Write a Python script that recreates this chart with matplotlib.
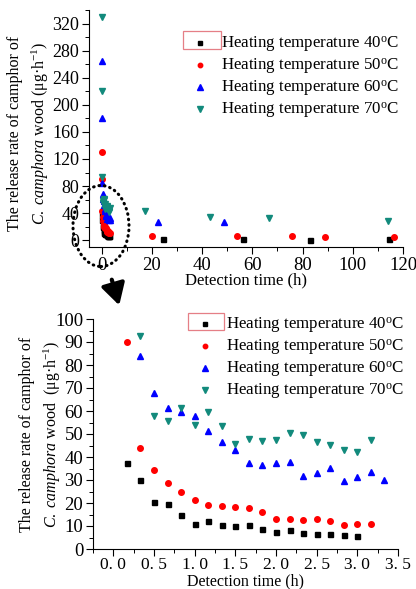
import matplotlib
matplotlib.use('Agg')
import matplotlib.pyplot as plt
from matplotlib.patches import Ellipse, Rectangle, FancyArrowPatch
from matplotlib.ticker import MultipleLocator, FixedLocator, FixedFormatter

plt.rcParams['font.family'] = ['Liberation Serif', 'DejaVu Serif']
plt.rcParams['mathtext.fontset'] = 'custom'
plt.rcParams['mathtext.rm'] = 'Liberation Serif'
plt.rcParams['mathtext.it'] = 'Liberation Serif:italic'

# ------------------------------- Data ------------------------------- #
labels = ['Heating temperature 40$^{\\mathrm{o}}$C', 'Heating temperature 50$^{\\mathrm{o}}$C',
          'Heating temperature 60$^{\\mathrm{o}}$C', 'Heating temperature 70$^{\\mathrm{o}}$C']

# detection time (h)
t40 = [0.17, 0.33, 0.5, 0.67, 0.83, 1.0, 1.17, 1.33, 1.5, 1.67, 1.83, 2.0, 2.17, 2.33, 2.5, 2.67, 2.83, 3.0,
       24.5, 56.5, 83.0, 114.5]
t50 = [0.0, 0.17, 0.33, 0.5, 0.67, 0.83, 1.0, 1.17, 1.33, 1.5, 1.67, 1.83, 2.0, 2.17, 2.33, 2.5, 2.67, 2.83, 3.0, 3.17,
       20.2, 54.0, 76.0, 89.0, 116.6]
t60 = [0.0, 0.17, 0.33, 0.5, 0.67, 0.83, 1.0, 1.17, 1.33, 1.5, 1.67, 1.83, 2.0, 2.17, 2.33, 2.5, 2.67, 2.83, 3.0, 3.17, 3.33,
       22.4, 48.7]
t70 = [0.0, 0.17, 0.33, 0.5, 0.67, 0.83, 1.0, 1.17, 1.33, 1.5, 1.67, 1.83, 2.0, 2.17, 2.33, 2.5, 2.67, 2.83, 3.0, 3.17,
       17.2, 43.0, 66.5, 113.9]

# release rate (ug/h)
r40 = [37.2, 30.0, 20.6, 19.6, 14.8, 10.9, 12.0, 10.4, 9.9, 10.4, 8.7, 7.4, 8.1, 7.1, 6.7, 6.5, 6.1, 5.8,
       2.5, 1.5, 1.0, 1.5]
r50 = [130, 90.0, 43.9, 34.5, 28.8, 24.6, 21.3, 19.0, 18.8, 18.1, 17.7, 15.9, 13.0, 12.9, 12.5, 13.0, 12.2, 10.4, 10.7, 11.0,
       6.4, 6.9, 6.4, 4.9, 4.9]
r60 = [265, 180, 83.8, 67.8, 61.2, 59.6, 57.8, 51.3, 46.4, 43.0, 37.2, 36.4, 37.5, 38.0, 31.6, 33.2, 35.4, 29.6, 31.3, 33.3, 30.1,
       26.5, 27.0]
r70 = [330, 220, 92.8, 57.7, 55.7, 61.4, 53.8, 59.4, 53.5, 45.7, 47.7, 47.1, 47.2, 50.3, 49.6, 46.5, 45.4, 43.2, 42.2, 47.5,
       43.2, 34.4, 33.0, 29.0]

bottom_xticks = [0.0, 0.5, 1.0, 1.5, 2.0, 2.5, 3.0, 3.5]
bottom_xticklabels = ['0. 0', '0. 5', '1. 0', '1. 5', '2. 0', '2. 5', '3. 0', '3. 5']

series = [(t40, r40, 's', 'black', 3.6),
          (t50, r50, 'o', 'red', 4.0),
          (t60, r60, '^', 'blue', 4.6),
          (t70, r70, 'v', '#128a7c', 4.6)]

W, H = 416, 589
fig = plt.figure(figsize=(W / 100, H / 100), dpi=100)


def px_axes(l, t, r, b):
    return fig.add_axes([l / W, 1 - b / H, (r - l) / W, (b - t) / H])


def style(ax):
    ax.spines['top'].set_visible(False)
    ax.spines['right'].set_visible(False)
    ax.tick_params(which='major', direction='out', length=5, width=0.8, labelsize=13.5, pad=2)
    ax.tick_params(which='minor', direction='out', length=3, width=0.7)


ax1 = px_axes(89, 10, 403, 247)
ax2 = px_axes(93, 319, 398, 549)

for ax in (ax1, ax2):
    for (t, r, m, c, ms), lab in zip(series, labels):
        ax.plot(t, r, linestyle='none', marker=m, color=c, markersize=ms, label=lab)
    style(ax)

# top panel
ax1.set_xlim(-5, 120)
ax1.set_ylim(-10, 340)
ax1.xaxis.set_major_locator(MultipleLocator(20))
ax1.xaxis.set_minor_locator(MultipleLocator(10))
ax1.yaxis.set_major_locator(MultipleLocator(40))
ax1.yaxis.set_minor_locator(MultipleLocator(20))
ax1.tick_params(axis='y', which='major', labelsize=13)
ax1.set_xlabel('Detection time (h)', fontsize=12, labelpad=-1)
ax1.set_ylabel('The release rate of camphor of\n$\\mathit{C.\\ camphora}$ wood (μg·h$^{\\mathrm{-1}}$)',
               fontsize=11.5, linespacing=1.45, va='center')
ax1.yaxis.set_label_coords((29 - 89) / 314, 0.48)

# bottom panel
ax2.set_xlim(-0.25, 3.5)
ax2.set_ylim(0, 100)
ax2.xaxis.set_major_locator(FixedLocator(bottom_xticks))
ax2.xaxis.set_major_formatter(FixedFormatter(bottom_xticklabels))
ax2.xaxis.set_minor_locator(MultipleLocator(0.25))
ax2.yaxis.set_major_locator(MultipleLocator(10))
ax2.yaxis.set_minor_locator(MultipleLocator(5))
ax2.tick_params(axis='x', which='major', labelsize=12.5, pad=1)
ax2.set_xlabel('Detection time (h)', fontsize=11.5, labelpad=0)
ax2.set_ylabel('The release rate of camphor of\n$\\mathit{C.\\ camphora}$ wood  (μg·h$^{\\mathrm{-1}}$)',
               fontsize=11.5, linespacing=1.45, va='center')
ax2.yaxis.set_label_coords((41 - 93) / 305, 0.5)

# legends
for ax, (lx, ly) in ((ax1, (192, 35)), (ax2, (197, 316))):
    ax.legend(loc='upper left', bbox_to_anchor=(lx / W, 1 - ly / H), bbox_transform=fig.transFigure,
              frameon=False, fontsize=12.2, handlelength=1.0, handletextpad=0.7,
              labelspacing=0.12, borderpad=0, borderaxespad=0, markerscale=0.8)

# pink selection boxes round the first legend marker
for (x0, y0, x1, y1) in ((183, 31, 221, 49), (188, 313, 224, 330)):
    fig.patches.append(Rectangle((x0 / W, 1 - y1 / H), (x1 - x0) / W, (y1 - y0) / H,
                                 transform=fig.transFigure, fill=False, edgecolor='#e57f86', lw=0.9))

# dotted ellipse round the early cluster and arrow to the zoomed panel
fig.patches.append(Ellipse((101 / W, 1 - 226 / H), 56 / W, 81 / H, transform=fig.transFigure,
                           fill=False, edgecolor='black', lw=2.2, linestyle=(0, (0.2, 1.6)),
                           capstyle='round'))
fig.patches.append(FancyArrowPatch((111 / W, 1 - 277 / H), (120 / W, 1 - 308 / H), transform=fig.transFigure,
                                   arrowstyle='-|>,head_length=8,head_width=4.5', lw=3, color='black',
                                   mutation_scale=1.6))

fig.savefig('out.png', dpi=100)
